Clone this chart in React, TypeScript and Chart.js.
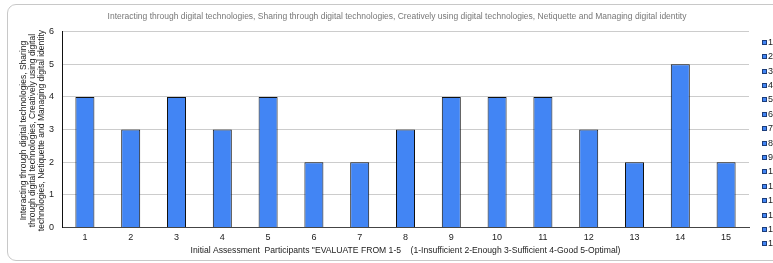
import React, { useEffect, useRef } from "react";
import { Chart, registerables } from "chart.js";

Chart.register(...registerables);

const categories = ["1", "2", "3", "4", "5", "6", "7", "8", "9", "10", "11", "12", "13", "14", "15"];
const values = [4, 3, 4, 3, 4, 2, 2, 3, 4, 4, 4, 3, 2, 5, 2];
const legendLabels = ["1", "2", "3", "4", "5", "6", "7", "8", "9", "10", "11", "12", "13", "14", "15"];
const yMin = 0;
const yMax = 6;
const yStep = 1;

const chartTitle =
  "Interacting through digital technologies, Sharing through digital technologies, Creatively using digital technologies, Netiquette and Managing digital identity";
const yTitleLines = [
  "Interacting through digital technologies, Sharing",
  "through digital technologies, Creatively using digital",
  "technologies, Netiquette and Managing digital identity",
];
const xTitle =
  'Initial Assessment  Participants "EVALUATE FROM 1-5    (1-Insufficient 2-Enough 3-Sufficient 4-Good 5-Optimal)';

const FONT = '"Liberation Sans", Arial, sans-serif';
const BAR_COLOR = "#4285f4";

const sideLegend = {
  id: "sideLegend",
  afterDraw(chart: any) {
    const { ctx, chartArea } = chart;
    ctx.save();
    ctx.font = `9px ${FONT}`;
    ctx.textBaseline = "middle";
    ctx.textAlign = "left";
    const x = chartArea.right + 13;
    legendLabels.forEach((lab, i) => {
      const y = Math.round(chartArea.top + 10 + i * 14.4);
      ctx.fillStyle = BAR_COLOR;
      ctx.fillRect(x, y - 2, 5, 5);
      ctx.strokeStyle = "#1c3d7a";
      ctx.lineWidth = 1;
      ctx.strokeRect(x + 0.5, y - 1.5, 4, 4);
      ctx.fillStyle = "#222";
      ctx.fillText(lab, x + 6, y + 0.5);
    });
    ctx.restore();
  },
};

const yAxisTitle = {
  id: "yAxisTitle",
  afterDraw(chart: any) {
    const { ctx, chartArea } = chart;
    const cy = (chartArea.top + chartArea.bottom) / 2 + 1;
    ctx.save();
    ctx.font = `8.5px ${FONT}`;
    ctx.fillStyle = "#222";
    ctx.textAlign = "center";
    ctx.textBaseline = "middle";
    yTitleLines.forEach((line, i) => {
      ctx.save();
      ctx.translate(15.5 + i * 9.2, cy);
      ctx.rotate(-Math.PI / 2);
      ctx.fillText(line, 0, 0);
      ctx.restore();
    });
    ctx.restore();
  },
};

export default function App() {
  const ref = useRef<HTMLCanvasElement | null>(null);

  useEffect(() => {
    if (!ref.current) return;
    const chart = new Chart(ref.current, {
      type: "bar",
      data: {
        labels: categories,
        datasets: [
          {
            data: values,
            backgroundColor: BAR_COLOR,
            borderColor: "#111",
            borderWidth: 1,
            barPercentage: 0.415,
            categoryPercentage: 1,
            yAxisID: "y",
          },
        ],
      },
      options: {
        responsive: false,
        animation: false,
        layout: { padding: { left: 0, right: 22, top: 0, bottom: 0 } },
        plugins: {
          legend: { display: false },
          tooltip: { enabled: false },
          title: {
            display: true,
            text: chartTitle,
            color: "#777",
            font: { family: FONT, size: 8.5, weight: "normal" },
            padding: { top: 7, bottom: 9.5 },
          },
        },
        scales: {
          x: {
            grid: { display: false, drawTicks: false },
            border: { display: true, color: "#444", width: 1 },
            ticks: { color: "#222", font: { family: FONT, size: 9 }, padding: 5 },
            title: {
              display: true,
              text: xTitle,
              color: "#222",
              font: { family: FONT, size: 8.6 },
              padding: { top: -2.5, bottom: 4 },
            },
          },
          y: {
            min: yMin,
            max: yMax,
            weight: 0,
            grid: { color: "#cccccc", drawTicks: false },
            border: { display: true, color: "#111", width: 1 },
            ticks: { stepSize: yStep, color: "#222", font: { family: FONT, size: 9 }, padding: 8 },
            title: { display: false },
          },
          yTitleSpace: {
            type: "linear",
            position: "left",
            weight: 1,
            display: true,
            grid: { display: false, drawTicks: false },
            border: { display: false },
            ticks: { display: false },
            afterFit: (s: any) => {
              s.width = 33;
            },
          },
          legendSpace: {
            type: "linear",
            position: "right",
            display: true,
            grid: { display: false, drawTicks: false },
            border: { display: false },
            ticks: { display: false },
            afterFit: (s: any) => {
              s.width = 37;
            },
          },
        },
      },
      plugins: [sideLegend, yAxisTitle],
    });
    return () => chart.destroy();
  }, []);

  return (
    <div
      style={{
        position: "absolute",
        left: 7,
        top: 4,
        width: 766,
        height: 257,
        overflow: "hidden",
      }}
    >
      <div
        style={{
          width: 800,
          height: 255,
          border: "1px solid #c8c8c8",
          borderRadius: 9,
          overflow: "hidden",
          background: "#fff",
        }}
      >
        <canvas ref={ref} width={800} height={255} style={{ display: "block" }} />
      </div>
    </div>
  );
}
